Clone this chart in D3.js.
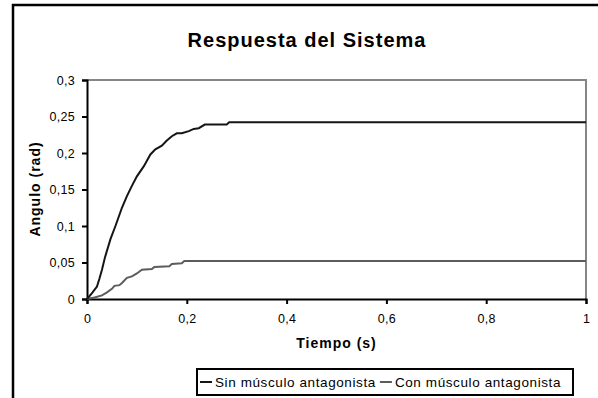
<!DOCTYPE html>
<html>
<head>
<meta charset="utf-8">
<script src="https://cdn.jsdelivr.net/npm/d3@7"></script>
<style>
  body { margin: 0; background: #fff; }
  text { font-family: "Liberation Sans", Arial, sans-serif; }
</style>
</head>
<body>
<div id="chart"></div>
<script>
// tiempo (s) y angulo (rad)
const tiempoSin = [0, 0.01, 0.02, 0.025, 0.03, 0.036, 0.047, 0.057, 0.07, 0.08, 0.09, 0.10, 0.114, 0.127, 0.137, 0.15, 0.16, 0.17, 0.18, 0.19, 0.204, 0.214, 0.224, 0.236, 0.28, 0.285, 1];
const anguloSin = [0, 0.008, 0.017, 0.028, 0.040, 0.057, 0.082, 0.100, 0.125, 0.141, 0.155, 0.168, 0.182, 0.198, 0.205, 0.210, 0.217, 0.223, 0.227, 0.227, 0.230, 0.233, 0.234, 0.239, 0.239, 0.242, 0.242];

const tiempoCon = [0, 0.015, 0.03, 0.04, 0.05, 0.055, 0.065, 0.07, 0.08, 0.09, 0.10, 0.11, 0.13, 0.135, 0.165, 0.17, 0.19, 0.195, 1];
const anguloCon = [0, 0.002, 0.005, 0.009, 0.014, 0.018, 0.019, 0.022, 0.029, 0.031, 0.035, 0.040, 0.041, 0.044, 0.045, 0.048, 0.049, 0.052, 0.052];

const seriesNames = ["Sin músculo antagonista", "Con músculo antagonista"];
const xTicks = [0, 0.2, 0.4, 0.6, 0.8, 1];
const yTicks = [0, 0.05, 0.1, 0.15, 0.2, 0.25, 0.3];

const width = 598;
const height = 398;
const plot = { left: 87, right: 586, top: 80, bottom: 299 };

const locale = d3.formatLocale({ decimal: ",", thousands: ".", grouping: [3], currency: ["", "€"] });
const fmt = locale.format("~f");

const svg = d3.select("#chart")
    .append("svg")
    .attr("width", width)
    .attr("height", height);

// borde del area del grafico (se corta por la derecha y abajo)
svg.append("rect")
    .attr("x", 13)
    .attr("y", 5)
    .attr("width", 620)
    .attr("height", 420)
    .attr("fill", "none")
    .attr("stroke", "#000")
    .attr("stroke-width", 2.5);

svg.append("text")
    .attr("x", 307)
    .attr("y", 47)
    .attr("text-anchor", "middle")
    .style("font-size", "20px")
    .style("font-weight", "bold")
    .style("letter-spacing", "1px")
    .text("Respuesta del Sistema");

const x = d3.scaleLinear().domain([0, 1]).range([plot.left, plot.right]);
const y = d3.scaleLinear().domain([0, 0.3]).range([plot.bottom, plot.top]);

// marco gris superior y derecho
svg.append("path")
    .attr("d", `M${plot.left},${y(0.3)}H${x(1)}V${y(0)}`)
    .attr("fill", "none")
    .attr("stroke", "#868686")
    .attr("stroke-width", 2);

const yAxis = svg.append("g")
    .attr("transform", `translate(${plot.left},0)`)
    .call(d3.axisLeft(y).tickValues(yTicks).tickFormat(fmt).tickSizeOuter(0).tickSize(5).tickPadding(7));

const xAxis = svg.append("g")
    .attr("transform", `translate(0,${plot.bottom})`)
    .call(d3.axisBottom(x).tickValues(xTicks).tickFormat(fmt).tickSizeOuter(0).tickSize(5).tickPadding(10));

[yAxis, xAxis].forEach(ax => {
    ax.select(".domain").attr("stroke", "#000").attr("stroke-width", 2);
    ax.selectAll(".tick line").attr("stroke", "#000").attr("stroke-width", 2);
    ax.selectAll(".tick text")
        .attr("fill", "#000")
        .style("font-family", "'Liberation Sans', Arial, sans-serif")
        .style("font-size", "12.5px")
        .style("letter-spacing", "0.3px");
});

const line = d3.line()
    .x(d => x(d[0]))
    .y(d => y(d[1]));

const colores = ["#151515", "#5c5c5c"];
const datos = [
    d3.zip(tiempoCon, anguloCon),
    d3.zip(tiempoSin, anguloSin)
];

svg.append("path")
    .datum(datos[0])
    .attr("d", line)
    .attr("fill", "none")
    .attr("stroke", colores[1])
    .attr("stroke-width", 2);

svg.append("path")
    .datum(datos[1])
    .attr("d", line)
    .attr("fill", "none")
    .attr("stroke", colores[0])
    .attr("stroke-width", 2);

svg.append("text")
    .attr("x", (plot.left + plot.right) / 2)
    .attr("y", 348)
    .attr("text-anchor", "middle")
    .style("font-size", "14px")
    .style("font-weight", "bold")
    .style("letter-spacing", "1px")
    .text("Tiempo (s)");

svg.append("text")
    .attr("transform", "translate(40,189) rotate(-90)")
    .attr("text-anchor", "middle")
    .style("font-size", "14px")
    .style("font-weight", "bold")
    .style("letter-spacing", "1px")
    .text("Angulo (rad)");

// leyenda
const legendBox = { left: 197, right: 573, top: 369, bottom: 395 };
svg.append("rect")
    .attr("x", legendBox.left)
    .attr("y", legendBox.top)
    .attr("width", legendBox.right - legendBox.left)
    .attr("height", legendBox.bottom - legendBox.top)
    .attr("fill", "#fff")
    .attr("stroke", "#000")
    .attr("stroke-width", 2);

const legend = svg.append("g")
    .attr("transform", `translate(${legendBox.left + 3},${(legendBox.top + legendBox.bottom) / 2})`);
let cursor = 0;
seriesNames.forEach((name, i) => {
    const item = legend.append("g").attr("transform", `translate(${cursor},0)`);
    item.append("line")
        .attr("x1", 0).attr("x2", 12)
        .attr("y1", 0).attr("y2", 0)
        .attr("stroke", colores[i])
        .attr("stroke-width", 2);
    const t = item.append("text")
        .attr("x", 15)
        .attr("y", 5)
        .style("font-size", "13.5px")
        .style("letter-spacing", "0.6px")
        .text(name);
    cursor += 15 + t.node().getComputedTextLength() + 4;
});
</script>
</body>
</html>
